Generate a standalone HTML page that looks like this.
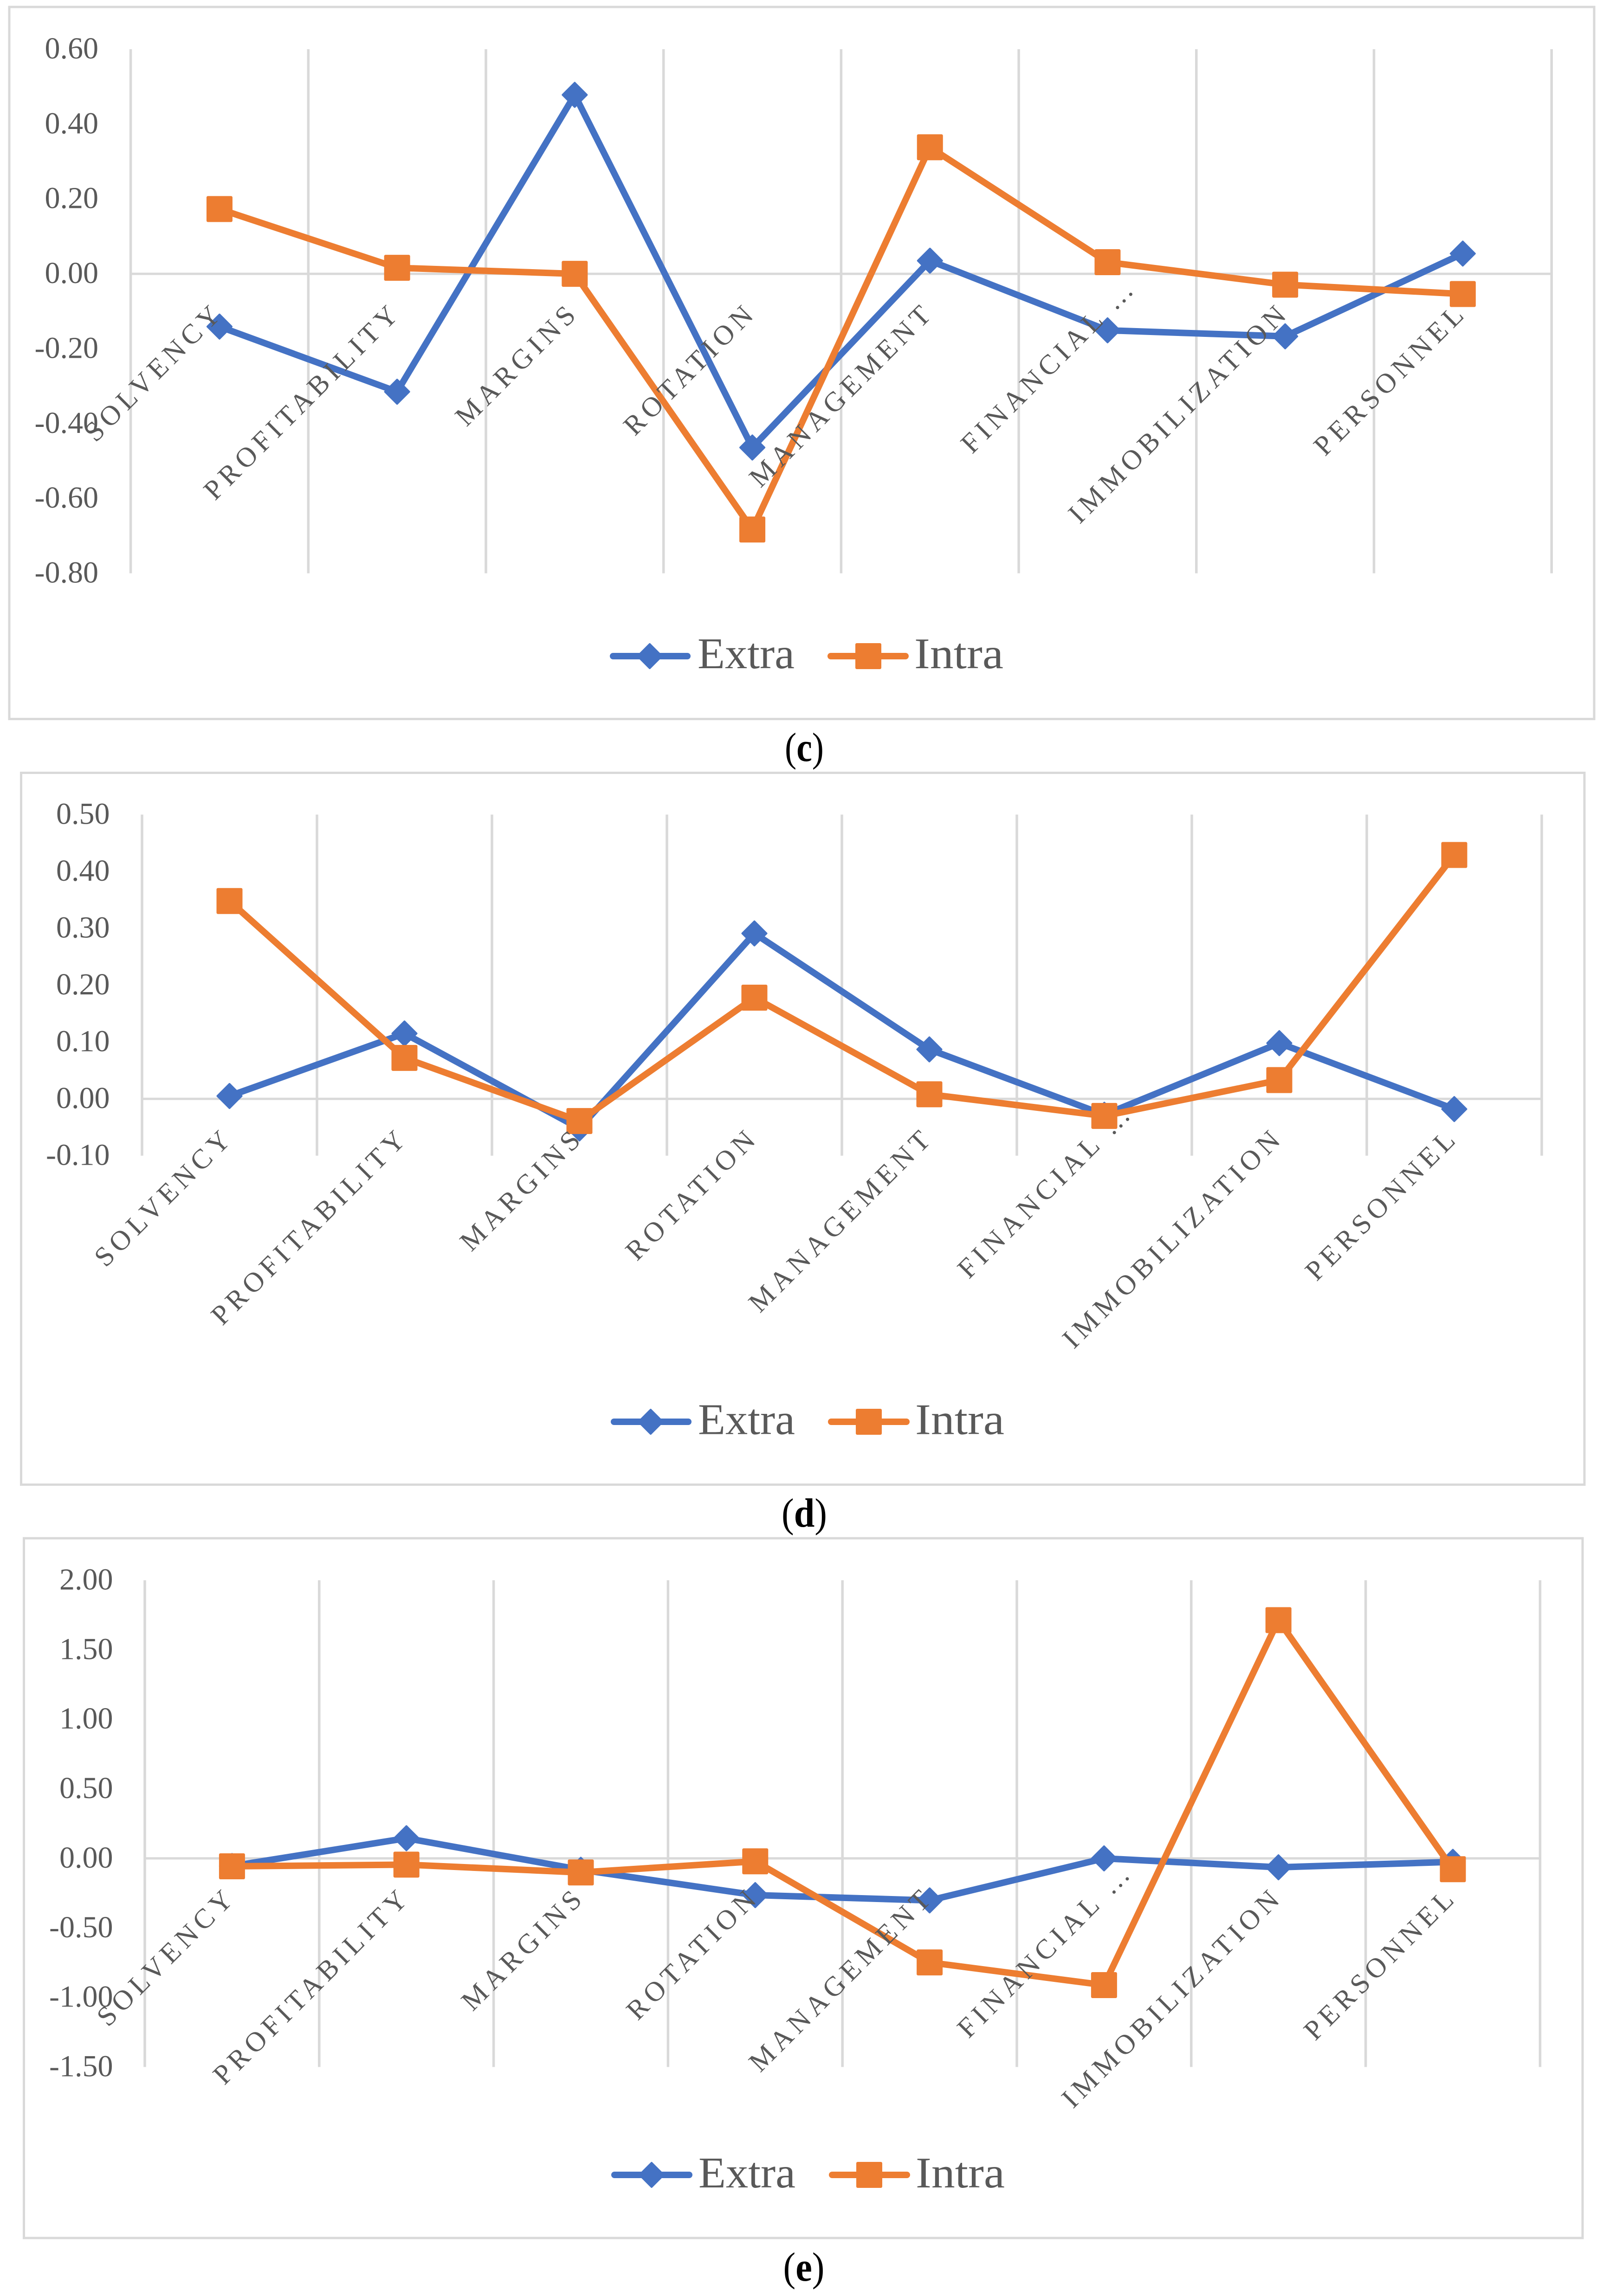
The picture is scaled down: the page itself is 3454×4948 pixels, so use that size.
<!DOCTYPE html>
<html lang="en">
<head>
<meta charset="utf-8">
<title>Extra and Intra line charts (c), (d), (e)</title>
<style>
html,body{margin:0;padding:0;background:#fff;}
body{width:3454px;height:4948px;overflow:hidden;}
svg{display:block;font-family:"Liberation Serif",serif;}
</style>
</head>
<body>
<svg id="figure" xmlns="http://www.w3.org/2000/svg" width="3454" height="4948" viewBox="0 0 3454 4948"></svg>
<script>
const categories = ["SOLVENCY","PROFITABILITY","MARGINS","ROTATION","MANAGEMENT","FINANCIAL …","IMMOBILIZATION","PERSONNEL"];
const seriesNames = ["Extra","Intra"];

const ticksC = [0.6,0.4,0.2,0,-0.2,-0.4,-0.6,-0.8];
const extraC = [-0.141,-0.315,0.478,-0.464,0.035,-0.151,-0.167,0.054];
const intraC = [0.173,0.016,0,-0.683,0.338,0.031,-0.029,-0.054];

const ticksD = [0.5,0.4,0.3,0.2,0.1,0,-0.1];
const extraD = [0.005,0.115,-0.052,0.291,0.087,-0.028,0.098,-0.018];
const intraD = [0.348,0.072,-0.039,0.178,0.008,-0.030,0.033,0.429];

const ticksE = [2,1.5,1,0.5,0,-0.5,-1,-1.5];
const extraE = [-0.055,0.145,-0.082,-0.264,-0.302,0,-0.064,-0.025];
const intraE = [-0.057,-0.045,-0.101,-0.021,-0.748,-0.911,1.713,-0.078];

const BLUE = "#4472c4", ORANGE = "#ed7d31", GRID = "#d9d9d9", TEXT = "#595959";
const svgNS = "http://www.w3.org/2000/svg";
const root = document.getElementById("figure");

function make(parent, tag, attrs, text) {
  const node = document.createElementNS(svgNS, tag);
  for (const k in attrs) node.setAttribute(k, attrs[k]);
  if (text !== undefined) node.textContent = text;
  parent.appendChild(node);
  return node;
}

const layouts = [
  {id:"c", extra:extraC, intra:intraC, ticks:ticksC,
   box:[20,15,3435,1549.5], left:281.6, step:382.7, top:106, bottom:1235.5, tickRight:212,
   leg:{y:1414, base:1440, l1:1321, l2:1481, m1:1400, t1:1503, l3:1790, l4:1951, m2:1871, t2:1970},
   cap:{x:1733, base:1640, w:84, letter:"c"}},
  {id:"d", extra:extraD, intra:intraD, ticks:ticksD,
   box:[45.5,1665.5,3414,3199.5], left:306, step:377, top:1755.5, bottom:2490.6, tickRight:236.5,
   leg:{y:3064, base:3090.5, l1:1323, l2:1483, m1:1402, t1:1504, l3:1791, l4:1953, m2:1872, t2:1972},
   cap:{x:1733, base:3290, w:98, letter:"d"}},
  {id:"e", extra:extraE, intra:intraE, ticks:ticksE,
   box:[51.5,3315,3410,4823], left:312, step:375.8, top:3405.5, bottom:4454.5, tickRight:243.5,
   leg:{y:4687, base:4714, l1:1324, l2:1485, m1:1404, t1:1505, l3:1793, l4:1954, m2:1873, t2:1973},
   cap:{x:1732, base:4915, w:89, letter:"e"}}
];

function drawMarker(group, kind, cx, cy) {
  const s = 28;
  if (kind === "diamond") {
    return make(group, "polygon", {
      points: [[cx,cy-s+2],[cx+s-2,cy],[cx,cy+s-2],[cx-s+2,cy]].map(p => p.join(",")).join(" "),
      fill: BLUE, stroke: BLUE, "stroke-width": 4, "stroke-linejoin": "round"
    });
  }
  return make(group, "rect", {x:cx-s, y:cy-s, width:2*s, height:2*s, rx:3, ry:3, fill:ORANGE});
}

layouts.forEach(function (p) {
  const panel = make(root, "g", {});
  
  

  const frame = make(panel, "rect", {x:p.box[0], y:p.box[1], width:p.box[2]-p.box[0], height:p.box[3]-p.box[1], fill:"#fff", stroke:GRID, "stroke-width":5});
  
  

  const maxV = p.ticks[0], minV = p.ticks[p.ticks.length-1];
  const yAxis = v => p.top + (maxV - v) / (maxV - minV) * (p.bottom - p.top);
  const xEdge = i => p.left + p.step * i;
  const xAxis = i => xEdge(i + 0.5);

  for (let i = 0; i <= categories.length; i++) {
    const g = make(panel, "line", {x1:xEdge(i), x2:xEdge(i), y1:p.top, y2:p.bottom, stroke:GRID, "stroke-width":5.5});
    
    
  }
  const zero = make(panel, "line", {x1:xEdge(0), x2:xEdge(categories.length), y1:yAxis(0), y2:yAxis(0), stroke:GRID, "stroke-width":5});
  
  

  [[p.extra, BLUE, "diamond", "extra"], [p.intra, ORANGE, "square", "intra"]].forEach(function (s) {
    const g = make(panel, "g", {});
    
    
    const line = make(g, "polyline", {
      points: s[0].map((v, i) => xAxis(i) + "," + yAxis(v)).join(" "),
      fill: "none", stroke: s[1], "stroke-width": 14, "stroke-linejoin": "round", "stroke-linecap": "round"
    });
    
    
    s[0].forEach(function (v, i) {
      const m = drawMarker(g, s[2], xAxis(i), yAxis(v));
      
      
    });
  });

  p.ticks.forEach(function (t) {
    const lbl = make(panel, "text", {x:p.tickRight, y:yAxis(t)+20, "text-anchor":"end", "font-size":66, fill:TEXT}, t.toFixed(2));
    
    
  });

  categories.forEach(function (c, i) {
    const more = c.endsWith("…") ? 54 : 0;
    const ax = xAxis(i) + 12 + more, ay = yAxis(0) + 86 - more;
    const lbl = make(panel, "text", {
      x:ax, y:ay, "text-anchor":"end", "font-size":60, "letter-spacing":10, fill:TEXT,
      transform:"rotate(-45 " + ax + " " + ay + ")"
    }, c);
    
    
  });

  const L = p.leg;
  const legend = make(panel, "g", {});
  
  

  const l1 = make(legend, "line", {x1:L.l1, x2:L.l2, y1:L.y, y2:L.y, stroke:BLUE, "stroke-width":14, "stroke-linecap":"round"});
  
  
  const m1 = drawMarker(legend, "diamond", L.m1, L.y);
  
  
  const t1 = make(legend, "text", {x:L.t1, y:L.base, "font-size":94, fill:TEXT, textLength:209, lengthAdjust:"spacingAndGlyphs"}, seriesNames[0]);
  
  

  const l2 = make(legend, "line", {x1:L.l3, x2:L.l4, y1:L.y, y2:L.y, stroke:ORANGE, "stroke-width":14, "stroke-linecap":"round"});
  
  
  const m2 = drawMarker(legend, "square", L.m2, L.y);
  
  
  const t2 = make(legend, "text", {x:L.t2, y:L.base, "font-size":94, fill:TEXT, textLength:192, lengthAdjust:"spacingAndGlyphs"}, seriesNames[1]);
  
  

  const cap = make(panel, "text", {x:p.cap.x, y:p.cap.base, "text-anchor":"middle", "font-size":88, fill:"#000", textLength:p.cap.w, lengthAdjust:"spacingAndGlyphs"});
  
  
  make(cap, "tspan", {}, "(");
  make(cap, "tspan", {"font-weight":"bold"}, p.cap.letter);
  make(cap, "tspan", {}, ")");
});
</script>
</body>
</html>
